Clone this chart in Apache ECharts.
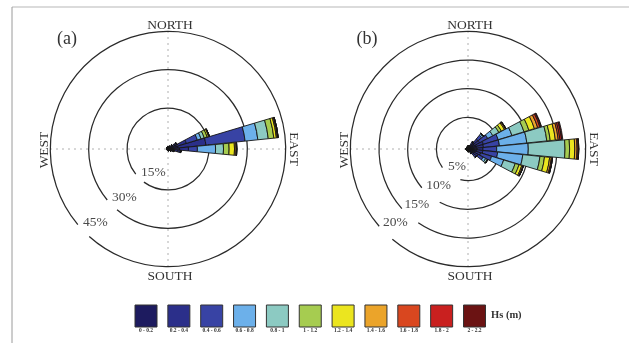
<!DOCTYPE html>
<html>
<head>
<meta charset="utf-8">
<script src="https://cdn.jsdelivr.net/npm/echarts@6/dist/echarts.min.js"></script>
<style>
  html, body { margin: 0; padding: 0; background: #fff; }
  #chart { width: 629px; height: 343px; }
</style>
</head>
<body>
<div id="chart"></div>
<script>
// 32-point compass sectors (11.25° each), clockwise from north
const directions = ['N','NbE','NNE','NEbN','NE','NEbE','ENE','EbN','E','EbS','ESE','SEbE','SE','SEbS','SSE','SbE',
                    'S','SbW','SSW','SWbS','SW','SWbW','WSW','WbS','W','WbN','WNW','NWbW','NW','NWbN','NNW','NbW'];

// Significant wave height classes
const hsClasses = ['0 - 0.2','0.2 - 0.4','0.4 - 0.6','0.6 - 0.8','0.8 - 1','1 - 1.2','1.2 - 1.4','1.4 - 1.6','1.6 - 1.8','1.8 - 2','2 - 2.2'];
const hsColors = ['#1d1b5f','#2b2f8a','#3843a4','#6cb0ea','#8ccac2','#a6cc50','#ebe51f','#eba42a','#d9471f','#c9201f','#6b1313'];

// Frequency (%) per direction for each Hs class — rose (a)
const a_0_02   = [0.8,0.8,0.9,1.0,1.4,2.0,3.5,4.0,4.5,2.5,1.6,1.2,1.0,0.8,0.7,0.6,0.6,0.5,0.5,0.5,0.5,0.5,0.5,0.5,0.6,0.6,0.6,0.6,0.6,0.7,0.7,0.8];
const a_02_04  = [0,0,0,0.2,0.5,1.2,4.0,10.9,3.5,1.5,0.6,0.2,0,0,0,0,0,0,0,0,0,0,0,0,0,0,0,0,0,0,0,0];
const a_04_06  = [0,0,0,0,0.2,0.5,4.5,15.4,3.5,0.8,0.2,0,0,0,0,0,0,0,0,0,0,0,0,0,0,0,0,0,0,0,0,0];
const a_06_08  = [0,0,0,0,0,0.2,1.5,5.0,7.1,0.3,0,0,0,0,0,0,0,0,0,0,0,0,0,0,0,0,0,0,0,0,0,0];
const a_08_1   = [0,0,0,0,0,0,1.3,4.1,3.1,0,0,0,0,0,0,0,0,0,0,0,0,0,0,0,0,0,0,0,0,0,0,0];
const a_1_12   = [0,0,0,0,0,0,1.2,2.2,2.2,0,0,0,0,0,0,0,0,0,0,0,0,0,0,0,0,0,0,0,0,0,0,0];
const a_12_14  = [0,0,0,0,0,0,0.6,1.0,2.1,0,0,0,0,0,0,0,0,0,0,0,0,0,0,0,0,0,0,0,0,0,0,0];
const a_14_16  = [0,0,0,0,0,0,0.3,0.4,0.6,0,0,0,0,0,0,0,0,0,0,0,0,0,0,0,0,0,0,0,0,0,0,0];
const a_16_18  = [0,0,0,0,0,0,0,0.3,0.3,0,0,0,0,0,0,0,0,0,0,0,0,0,0,0,0,0,0,0,0,0,0,0];
const a_18_2   = [0,0,0,0,0,0,0,0,0,0,0,0,0,0,0,0,0,0,0,0,0,0,0,0,0,0,0,0,0,0,0,0];
const a_2_22   = [0,0,0,0,0,0,0,0,0,0,0,0,0,0,0,0,0,0,0,0,0,0,0,0,0,0,0,0,0,0,0,0];

// Frequency (%) per direction for each Hs class — rose (b)
const b_0_02   = [0.5,0.5,0.6,0.9,1.4,1.3,1.5,1.5,1.6,1.5,1.3,1.2,1.0,0.7,0.5,0.4,0.3,0.3,0.3,0.3,0.3,0.3,0.3,0.3,0.3,0.3,0.3,0.3,0.3,0.3,0.4,0.4];
const b_02_04  = [0,0,0,0.4,0.9,1.0,1.3,1.2,1.0,1.1,1.0,0.8,0.5,0.2,0,0,0,0,0,0,0,0,0,0,0,0,0,0,0,0,0,0];
const b_04_06  = [0,0,0,0.2,0.8,1.6,2.7,2.8,2.4,2.6,2.0,1.0,0.4,0,0,0,0,0,0,0,0,0,0,0,0,0,0,0,0,0,0,0];
const b_06_08  = [0,0,0,0,0.3,1.0,2.5,4.8,5.5,4.4,2.2,0.5,0,0,0,0,0,0,0,0,0,0,0,0,0,0,0,0,0,0,0,0];
const b_08_1   = [0,0,0,0,0.1,1.2,2.2,3.5,6.4,3.0,2.1,0.3,0,0,0,0,0,0,0,0,0,0,0,0,0,0,0,0,0,0,0,0];
const b_1_12   = [0,0,0,0,0,0.5,0.9,0.6,0.8,0.8,0.7,0.1,0,0,0,0,0,0,0,0,0,0,0,0,0,0,0,0,0,0,0,0];
const b_12_14  = [0,0,0,0,0,0.6,1.0,0.9,0.9,0.9,0.5,0,0,0,0,0,0,0,0,0,0,0,0,0,0,0,0,0,0,0,0,0];
const b_14_16  = [0,0,0,0,0,0.2,0.6,0.5,0.4,0.3,0.2,0,0,0,0,0,0,0,0,0,0,0,0,0,0,0,0,0,0,0,0,0];
const b_16_18  = [0,0,0,0,0,0.1,0.4,0.3,0.2,0.2,0.1,0,0,0,0,0,0,0,0,0,0,0,0,0,0,0,0,0,0,0,0,0];
const b_18_2   = [0,0,0,0,0,0,0.2,0.3,0.1,0,0,0,0,0,0,0,0,0,0,0,0,0,0,0,0,0,0,0,0,0,0,0];
const b_2_22   = [0,0,0,0,0,0,0.1,0.2,0,0,0,0,0,0,0,0,0,0,0,0,0,0,0,0,0,0,0,0,0,0,0,0];

// Reference rings: [percent, gap start (compass °), gap end (compass °)]
const ringsA = [[15, 216, 232], [30, 220, 230], [45, 222, 230]];
const ringsB = [[5, 194, 234], [10, 208, 230], [15, 214, 228], [20, 220, 229]];

const classesA = [a_0_02,a_02_04,a_04_06,a_06_08,a_08_1,a_1_12,a_12_14,a_14_16,a_16_18,a_18_2,a_2_22];
const classesB = [b_0_02,b_02_04,b_04_06,b_06_08,b_08_1,b_1_12,b_12_14,b_14_16,b_16_18,b_18_2,b_2_22];

const SERIF = '"Liberation Serif", "DejaVu Serif", serif';
// ring scale starts slightly below zero (min); bars grow from the centre
const roses = [
  { cx: 168, cy: 149, min: -1,   max: 45, rings: ringsA, classes: classesA, tag: '(a)' },
  { cx: 468, cy: 149, min: -0.5, max: 20, rings: ringsB, classes: classesB, tag: '(b)' }
];
const R = 117.7;

const polar = [], angleAxis = [], radiusAxis = [], series = [], graphic = [];
const hidden = { axisLine: { show: false }, axisTick: { show: false }, axisLabel: { show: false } };

roses.forEach((rose, k) => {
  const gi = k * 2, bi = k * 2 + 1;
  const barR = R * rose.max / (rose.max - rose.min);
  polar.push({ center: [rose.cx, rose.cy], radius: R });
  polar.push({ center: [rose.cx, rose.cy], radius: barR });
  // grid polar: value angle axis for the dotted N-E-S-W lines
  angleAxis.push(Object.assign({
    polarIndex: gi, type: 'value', min: 0, max: 360, interval: 90, startAngle: 90, clockwise: true,
    splitLine: { show: true, lineStyle: { color: '#8c8c8c', width: 1, type: [1.4, 4.6] } }
  }, hidden));
  // bar polar: one category per compass sector, centred on its direction
  angleAxis.push(Object.assign({
    polarIndex: bi, type: 'category', data: directions, startAngle: 90 + 5.625, clockwise: true,
    boundaryGap: true, splitLine: { show: false }
  }, hidden));
  radiusAxis.push(Object.assign({ polarIndex: gi, type: 'value', min: rose.min, max: rose.max, splitLine: { show: false } }, hidden));
  radiusAxis.push(Object.assign({ polarIndex: bi, type: 'value', min: 0, max: rose.max, splitLine: { show: false } }, hidden));

  // percentage rings with a break where the label sits
  series.push({
    type: 'custom', coordinateSystem: 'polar', polarIndex: gi, z: 1, silent: true,
    data: rose.rings,
    renderItem: function (params, api) {
      const cs = params.coordSys;
      const v = api.value(0), g0 = api.value(1), g1 = api.value(2);
      const p = api.coord([v, 0]);
      const r = Math.hypot(p[0] - cs.cx, p[1] - cs.cy);
      const toRad = d => (d - 90) * Math.PI / 180;
      const la = 229 * Math.PI / 180, lr = r - 5;
      return {
        type: 'group',
        children: [
          { type: 'arc',
            shape: { cx: cs.cx, cy: cs.cy, r: r, startAngle: toRad(g1), endAngle: toRad(g0 + 360), clockwise: true },
            style: { stroke: '#2a2a2a', lineWidth: 1.25, fill: 'none' } },
          { type: 'text',
            x: cs.cx + lr * Math.sin(la), y: cs.cy - lr * Math.cos(la),
            style: { text: v + '%', font: '13.5px ' + SERIF, fill: '#4a4a4a', align: 'left', verticalAlign: 'middle' } }
        ]
      };
    }
  });

  // stacked wave-height bars
  rose.classes.forEach((vals, i) => {
    series.push({
      type: 'bar', coordinateSystem: 'polar', polarIndex: bi, stack: 'hs' + k, z: 3,
      name: hsClasses[i], data: vals, barCategoryGap: '4%',
      itemStyle: { color: hsColors[i], borderColor: '#141414', borderWidth: 0.9 }
    });
  });

  // compass labels and panel tag
  const txt = (text, x, y, rot, size) => ({
    type: 'text', x: x, y: y, rotation: rot || 0,
    style: { text: text, font: (size || 13.5) + 'px ' + SERIF, fill: '#333', align: 'center', verticalAlign: 'middle' }
  });
  graphic.push(txt('NORTH', rose.cx + 2, 25));
  graphic.push(txt('SOUTH', rose.cx + 2, 276));
  graphic.push(txt('EAST', rose.cx + 126, 149, -Math.PI / 2));
  graphic.push(txt('WEST', rose.cx - 124, 150, Math.PI / 2));
  graphic.push(txt(rose.tag, rose.cx - 101, 39, 0, 18));
});

// legend of Hs classes
hsColors.forEach((c, i) => {
  const x = 135 + i * 32.85;
  graphic.push({ type: 'rect', shape: { x: x, y: 305, width: 22, height: 22 },
    style: { fill: c, stroke: '#333', lineWidth: 1 } });
  graphic.push({ type: 'text', x: x + 11, y: 331,
    style: { text: hsClasses[i], font: 'bold 5.5px ' + SERIF, fill: '#333', align: 'center', verticalAlign: 'middle' } });
});
graphic.push({ type: 'text', x: 491, y: 315,
  style: { text: 'Hs (m)', font: 'bold 10.5px ' + SERIF, fill: '#333', align: 'left', verticalAlign: 'middle' } });

// page frame
graphic.push({ type: 'line', shape: { x1: 12, y1: 7, x2: 629, y2: 7 }, style: { stroke: '#cfcfcf', lineWidth: 1.5 } });
graphic.push({ type: 'line', shape: { x1: 12, y1: 7, x2: 12, y2: 343 }, style: { stroke: '#9a9a9a', lineWidth: 1 } });

const chart = echarts.init(document.getElementById('chart'), null, { renderer: 'canvas' });
chart.setOption({
  animation: false,
  backgroundColor: '#fff',
  polar: polar,
  angleAxis: angleAxis,
  radiusAxis: radiusAxis,
  series: series,
  graphic: graphic
});
</script>
</body>
</html>
